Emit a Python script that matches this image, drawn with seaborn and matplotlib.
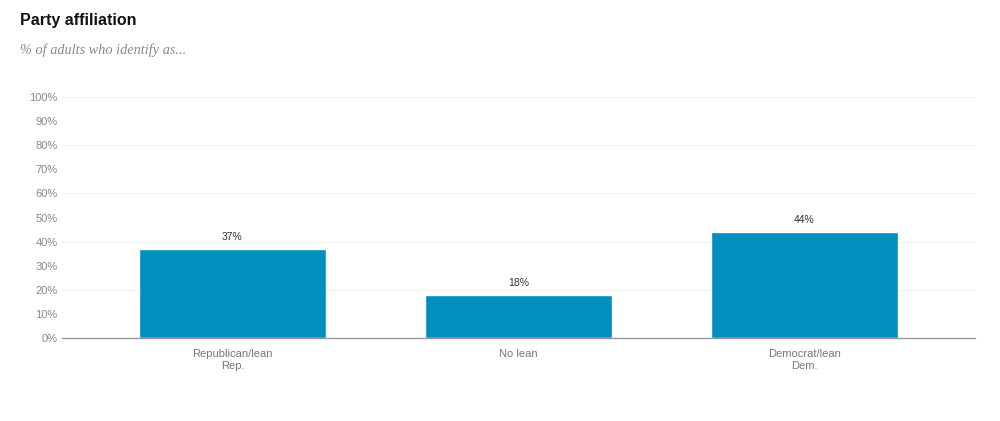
import matplotlib
matplotlib.use("Agg")
import matplotlib.pyplot as plt
import seaborn as sns
import pandas as pd

categories = ["Republican/lean\nRep.", "No lean", "Democrat/lean\nDem."]
values = [37, 18, 44]
value_labels = ["37%", "18%", "44%"]
yticks = [0, 10, 20, 30, 40, 50, 60, 70, 80, 90, 100]
ytick_labels = [f"{t}%" for t in yticks]

sns.set_theme(style="white")
plt.rcParams['font.family'] = ['Liberation Sans', 'DejaVu Sans']

df = pd.DataFrame({"cat": categories, "val": values})

fig = plt.figure(figsize=(10, 4.21), dpi=100)
ax = fig.add_axes([0.062, 0.197, 0.913, 0.5724])
sns.barplot(data=df, x="cat", y="val", color="#008fbf", width=0.654, ax=ax, saturation=1)

ax.set_xlim(-0.596, 2.596)
ax.set_ylim(0, 100)
ax.set_yticks(yticks)
ax.set_yticklabels(ytick_labels, fontsize=8, color="#888888")
ax.tick_params(axis="y", length=0, pad=3)
ax.tick_params(axis="x", length=0, pad=8, labelsize=8, labelcolor="#777777")
for g in [20, 40, 60, 80, 100]:
    ax.axhline(g, color="#f0f0f0", lw=0.8, zorder=0)
for s in ["top", "right", "left"]:
    ax.spines[s].set_visible(False)
ax.spines["bottom"].set_color("#999999")
ax.spines["bottom"].set_linewidth(1)
ax.set_xlabel("")
ax.set_ylabel("")

for i, (v, lab) in enumerate(zip(values, value_labels)):
    ax.annotate(lab, (i, v), xytext=(0, 5), textcoords="offset points",
                ha="center", va="bottom", fontsize=7.5, color="#333333")

fig.text(0.02, 0.952, "Party affiliation", fontsize=11.5, fontweight="bold",
         color="#111111", va="center", ha="left")
fig.text(0.02, 0.88, "% of adults who identify as...", fontsize=10.3, style="italic",
         family="Liberation Serif", color="#8a8a8a", va="center", ha="left")

fig.savefig("out.png", dpi=100)
